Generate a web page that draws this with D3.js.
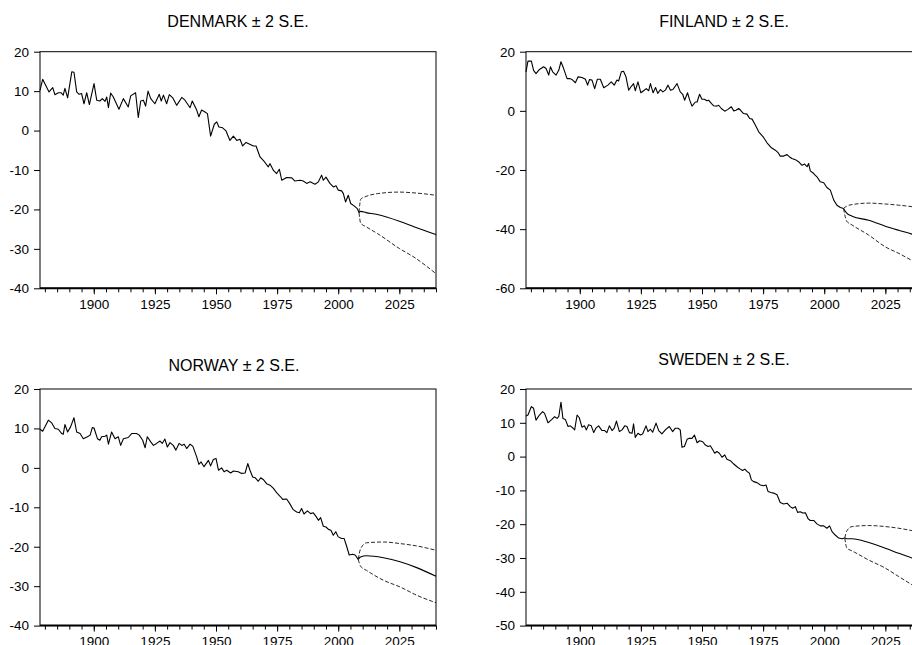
<!DOCTYPE html>
<html>
<head>
<meta charset="utf-8">
<script src="https://cdn.jsdelivr.net/npm/d3@7"></script>
<style>
body { margin: 0; background: #fff; }
svg { display: block; font-family: "Liberation Sans", Arial, sans-serif; }
.title { font-size: 16px; fill: #000; }
.axis text { font-size: 13.5px; fill: #000; }
.axis line { stroke: #000; }
</style>
</head>
<body>
<div id="chart"></div>
<script>
// history: [year, value], forecast: [year, mean, lower, upper]
var denmark = [
[1878,10.2],[1879.1,13.0],[1880,11.9],[1881.7,9.8],[1883.2,10.9],[1884.1,9.1],[1885.5,9.6],[1886.6,9.6],[1887.5,9.0],[1888.2,10.7],[1889.3,8.3],[1891,14.9],[1891.9,14.8],[1893,9.8],[1894,9.2],[1895,9.4],[1896,6.8],[1897.1,9.6],[1898.2,6.6],[1900.1,11.9],[1901.2,7.7],[1902.5,7.5],[1903.5,8.1],[1904.6,7.4],[1905.3,8.5],[1906,5.8],[1906.9,9.5],[1908,8.5],[1910.3,5.4],[1912.1,8.1],[1914.1,6.0],[1915.1,8.8],[1917.1,9.6],[1918.2,3.3],[1919.2,7.5],[1920.3,7.7],[1921.2,6.2],[1922.2,10.0],[1923.3,8.1],[1925,6.8],[1926.8,9.2],[1927.6,7.5],[1928.5,9.0],[1929.8,6.8],[1930.9,9.1],[1932.3,8.3],[1933.9,6.4],[1936,8.4],[1937.3,7.7],[1939.4,5.8],[1940.3,7.5],[1942.1,5.2],[1943,3.5],[1944.1,5.2],[1945.5,4.7],[1946.5,4.3],[1947.8,-1.4],[1949.3,1.6],[1950.3,2.2],[1951.2,0.9],[1952.7,0.7],[1954.1,-0.1],[1955.7,-2.5],[1957.1,-1.4],[1958.5,-2.5],[1959.8,-2.2],[1960.9,-3.9],[1962.3,-3.0],[1965.3,-3.9],[1966.4,-3.9],[1968,-6.7],[1969.8,-7.9],[1971.4,-9.2],[1972.1,-8.4],[1973.5,-10.1],[1974.8,-10.9],[1975.9,-9.8],[1976.9,-12.6],[1978.9,-11.9],[1981,-12.0],[1982.3,-12.8],[1984.4,-12.6],[1985.7,-12.8],[1987.1,-13.4],[1988.5,-13.0],[1990.5,-13.6],[1991.9,-13.0],[1993.2,-11.3],[1993.9,-12.6],[1995,-11.8],[1996.6,-13.4],[1998,-14.3],[1999.1,-14.0],[2000,-15.1],[2001.4,-15.3],[2002.1,-16.0],[2003,-18.1],[2004.1,-16.4],[2005.1,-18.5],[2006.5,-19.1],[2007.8,-19.8],[2008.5,-20.8]
];
var denmarkFc = [
[2008.5,-20.8,-20.8,-20.8],[2009.2,-20.5,-23.5,-17.4],[2011.4,-20.8,-24.4,-16.7],[2016,-21.3,-26.1,-16.0],[2025,-23.0,-29.9,-15.6],[2031,-24.4,-32.1,-15.8],[2040,-26.4,-36.3,-16.4]
];

var finland = [
[1878,13.2],[1878.8,16.8],[1880.2,16.8],[1881.1,13.7],[1882.1,12.6],[1883.5,14.0],[1885.2,14.9],[1886.2,14.3],[1887.3,12.1],[1888,14.9],[1888.9,13.2],[1890.3,12.1],[1891.4,13.7],[1892.3,16.6],[1893.4,14.3],[1894.8,10.9],[1896.1,10.9],[1897.1,10.4],[1898.2,9.5],[1899.3,11.5],[1900.9,11.3],[1902.3,10.7],[1903.2,8.7],[1904,10.6],[1905,10.4],[1906.1,7.5],[1907.2,10.7],[1908.4,10.7],[1909.8,7.8],[1911.5,8.7],[1912.9,9.8],[1914.1,8.7],[1915.2,10.4],[1915.9,10.1],[1917,13.2],[1917.9,13.4],[1918.9,11.5],[1920,7.0],[1921.1,8.3],[1922,9.2],[1922.7,6.8],[1923.8,9.8],[1925,6.1],[1926.1,6.8],[1927.2,7.5],[1928.2,6.8],[1928.9,9.2],[1930,6.1],[1931,7.9],[1931.9,5.9],[1933,7.2],[1934,6.4],[1935,7.0],[1936.1,8.7],[1937.1,7.0],[1938.1,7.2],[1939.8,9.2],[1941.1,6.4],[1942.1,5.6],[1942.9,3.6],[1944.1,6.1],[1944.9,3.8],[1945.9,1.6],[1947.3,3.0],[1948,3.0],[1949,5.6],[1950,3.9],[1951,3.9],[1952,3.4],[1952.7,3.6],[1953.8,2.5],[1954.8,1.7],[1956.1,1.6],[1956.8,1.9],[1957.9,0.8],[1959.3,-0.1],[1960.6,0.5],[1962,1.4],[1963,0.0],[1963.9,0.2],[1965,0.8],[1965.8,0.2],[1967,-0.9],[1968.4,-1.1],[1969.5,-2.6],[1970.5,-2.8],[1971.8,-4.8],[1973.2,-7.1],[1975.2,-9.0],[1976.6,-10.8],[1978.4,-12.5],[1980,-13.3],[1981.1,-14.1],[1982,-15.3],[1983.4,-15.3],[1984.8,-14.8],[1985.7,-15.5],[1986.8,-16.1],[1988.2,-16.5],[1989.5,-17.2],[1990.9,-18.4],[1992,-18.0],[1993,-18.9],[1993.6,-17.8],[1994.3,-20.3],[1995.7,-21.2],[1997,-22.3],[1998.4,-24.0],[1999.8,-24.3],[2001.1,-25.9],[2002.5,-26.8],[2003.9,-30.2],[2005.2,-31.9],[2006.6,-32.7],[2007.9,-33.0]
];
var finlandFc = [
[2007.9,-33.0,-33.0,-33.0],[2009.2,-34.6,-37.3,-32.2],[2011.4,-35.6,-38.6,-31.7],[2018.2,-37.0,-42.0,-31.2],[2025,-39.0,-46.0,-31.5],[2030.5,-40.4,-48.2,-31.9],[2035.9,-41.7,-50.6,-32.4],[2040,-42.9,-52.4,-33.0]
];

var norway = [
[1878,9.8],[1879.1,9.3],[1881.4,12.1],[1882.8,11.4],[1884.1,10.0],[1885.5,9.8],[1886.9,8.7],[1887.5,8.5],[1888.2,11.0],[1889.3,9.1],[1890.5,10.4],[1891.9,12.7],[1893,9.1],[1894.4,8.7],[1895.7,7.4],[1897.4,7.9],[1898.5,8.3],[1899.4,10.2],[1900.1,10.1],[1901.5,7.4],[1902.5,7.0],[1903.2,7.9],[1904.6,8.0],[1905.3,8.3],[1906,6.0],[1907.3,9.1],[1908.7,7.4],[1910,7.9],[1911,5.7],[1912.1,7.4],[1914.1,7.7],[1915.5,8.7],[1917.5,8.7],[1918.6,8.3],[1920,7.0],[1921,5.1],[1921.9,7.9],[1923.3,6.6],[1924.4,5.7],[1925.7,6.2],[1927.1,6.8],[1928,6.2],[1929.1,7.3],[1930.1,5.3],[1931.2,6.4],[1932.5,5.7],[1933.6,4.5],[1934.9,6.2],[1936,5.7],[1937,6.0],[1938,4.9],[1939.4,6.0],[1940.5,5.5],[1942.1,2.8],[1943,0.9],[1943.9,1.5],[1945.1,0.3],[1946.9,1.9],[1947.8,0.5],[1948.9,2.1],[1950,2.4],[1951,-0.6],[1952.3,0.0],[1953.3,-1.0],[1954.4,-0.6],[1956,-1.3],[1957.1,-0.8],[1959.1,-1.0],[1960.5,-1.4],[1961.9,-1.3],[1963,1.1],[1963.9,-0.6],[1965,-2.3],[1966,-2.5],[1967.3,-3.4],[1968.3,-2.5],[1969.4,-3.0],[1970.7,-4.0],[1972.1,-4.4],[1973.5,-5.2],[1974.8,-6.3],[1976.2,-7.2],[1977.3,-8.0],[1978.9,-7.9],[1980.3,-9.2],[1981.6,-10.6],[1983,-11.2],[1984.1,-11.4],[1985,-10.3],[1986,-11.7],[1987.4,-10.9],[1988.7,-11.6],[1989.8,-11.4],[1990.9,-12.3],[1991.9,-13.3],[1992.8,-12.6],[1993.9,-14.8],[1995,-15.0],[1996,-15.6],[1997,-15.8],[1998,-17.1],[1999,-16.2],[2000,-17.5],[2001.4,-17.9],[2002.4,-17.9],[2003.5,-20.0],[2004.5,-22.1],[2005.9,-21.9],[2006.9,-22.1],[2008.2,-23.2]
];
var norwayFc = [
[2008.2,-23.2,-23.2,-23.2],[2009.1,-22.6,-24.9,-20.6],[2011.6,-22.3,-26.0,-19.0],[2018.5,-22.8,-28.5,-18.8],[2025.3,-23.8,-30.2,-19.2],[2032.1,-25.3,-32.3,-19.8],[2040,-27.5,-34.2,-20.9]
];

var sweden = [
[1878,12.0],[1878.8,12.3],[1880.2,14.8],[1881.1,14.3],[1882.1,10.8],[1883.5,12.3],[1884.8,13.3],[1885.6,12.8],[1887,10.0],[1888.6,11.0],[1889.7,11.8],[1890.7,11.3],[1891.4,11.8],[1892.3,16.1],[1893.1,11.3],[1894.1,11.0],[1895.2,8.9],[1896.1,9.1],[1896.8,8.7],[1897.9,7.9],[1898.9,12.3],[1899.8,11.5],[1900.9,8.7],[1901.9,9.1],[1902.7,7.9],[1903.6,9.4],[1904.7,9.1],[1905.7,7.1],[1906.6,8.4],[1907.7,9.1],[1909.1,7.7],[1910.2,7.7],[1911.1,7.1],[1912.1,9.1],[1913.2,7.7],[1914.1,8.4],[1915,10.5],[1916.2,7.4],[1917.3,7.9],[1918.4,9.1],[1919.3,8.9],[1920.3,7.1],[1921.4,6.9],[1922,9.7],[1922.7,5.7],[1923.8,6.9],[1924.8,6.4],[1925.7,6.7],[1927.1,9.1],[1927.9,7.4],[1928.9,8.1],[1929.8,7.2],[1931.2,9.9],[1932.3,7.7],[1933.6,6.7],[1935,7.9],[1936.6,8.9],[1938,7.4],[1939.1,8.4],[1940.2,8.4],[1941.1,7.9],[1941.8,2.8],[1942.8,3.0],[1943.9,5.1],[1944.8,5.4],[1945.9,5.4],[1946.9,6.4],[1948,4.1],[1949,4.7],[1950.3,4.4],[1951.4,3.4],[1952.5,3.0],[1953.4,3.2],[1954.4,2.0],[1955.2,1.0],[1956.1,1.5],[1957.1,1.0],[1958.2,-0.2],[1959.3,0.5],[1960.2,-0.8],[1961.6,-1.2],[1963,-2.2],[1964.3,-3.0],[1965.7,-3.7],[1966.6,-4.1],[1967.5,-3.7],[1968.4,-4.4],[1969.4,-4.9],[1970.2,-6.9],[1971.1,-7.4],[1972.5,-7.7],[1973.9,-8.4],[1975.2,-8.6],[1976.2,-8.4],[1977,-10.3],[1978.2,-10.6],[1979.3,-10.8],[1980.7,-11.3],[1982,-13.6],[1983.4,-14.0],[1984.8,-13.8],[1986.1,-14.8],[1987.1,-15.3],[1988.2,-14.8],[1989.1,-16.5],[1990.2,-16.3],[1991.2,-16.7],[1992.3,-16.6],[1993.4,-18.4],[1994.3,-18.9],[1995.7,-18.9],[1997,-19.9],[1998.4,-20.5],[1999.8,-20.5],[2001.1,-21.2],[2002.2,-20.5],[2003.2,-22.2],[2004.5,-23.2],[2005.9,-24.1],[2007.3,-24.3],[2008.4,-24.1]
];
var swedenFc = [
[2008.4,-24.1,-24.1,-24.1],[2009.3,-24.3,-27.1,-21.9],[2011.4,-24.3,-27.9,-20.7],[2018.2,-25.4,-30.6,-20.4],[2025,-27.1,-33.0,-20.7],[2030.5,-28.6,-35.5,-21.2],[2035.9,-30.0,-37.9,-21.9],[2040,-31.2,-39.7,-22.5]
];

var titles = ["DENMARK \u00b1 2 S.E.", "FINLAND \u00b1 2 S.E.", "NORWAY \u00b1 2 S.E.", "SWEDEN \u00b1 2 S.E."];
var yearDomain = [1878, 2040];
var majorYears = [1900, 1925, 1950, 1975, 2000, 2025];
var minorYears = d3.range(1880, 2041, 5);
var denmarkTicks = [-40, -30, -20, -10, 0, 10, 20];
var finlandTicks = [-60, -40, -20, 0, 20];
var norwayTicks = [-40, -30, -20, -10, 0, 10, 20];
var swedenTicks = [-50, -40, -30, -20, -10, 0, 10, 20];

var svg = d3.select("#chart").append("svg")
    .attr("width", 912)
    .attr("height", 645);

function forecastChart(opts) {

var chartWidth = 396;
var chartHeight = 236.6;

var g = svg.append("g")
    .attr("transform", `translate(${opts.left}, ${opts.top})`);

var xScale = d3.scaleLinear()
    .domain(yearDomain)
    .range([0, chartWidth]);

var yScale = d3.scaleLinear()
    .domain(d3.extent(opts.ticks))
    .range([chartHeight, 0]);

svg.append("text")
    .attr("class", "title")
    .attr("x", opts.titleX)
    .attr("y", opts.titleY)
    .attr("text-anchor", "middle")
    .text(opts.title);

// frame
g.append("rect")
    .attr("width", chartWidth)
    .attr("height", chartHeight)
    .attr("fill", "none")
    .attr("stroke", "#000")
    .attr("stroke-width", 1);

// plain hyphen for negatives, like the original
var plain = d => String(d);

var yAxis = d3.axisLeft(yScale)
    .tickValues(opts.ticks)
    .tickFormat(plain)
    .tickSize(6)
    .tickPadding(5);

g.append("g")
    .attr("class", "y axis")
    .call(yAxis)
    .call(a => a.select(".domain").remove());

var minorAxis = d3.axisBottom(xScale)
    .tickValues(minorYears)
    .tickFormat("")
    .tickSize(4);

g.append("g")
    .attr("class", "x axis")
    .attr("transform", `translate(0,${chartHeight})`)
    .call(minorAxis)
    .call(a => a.select(".domain").remove());

var xAxis = d3.axisBottom(xScale)
    .tickValues(majorYears)
    .tickFormat(plain)
    .tickSize(6)
    .tickPadding(5);

g.append("g")
    .attr("class", "x axis")
    .attr("transform", `translate(0,${chartHeight})`)
    .call(xAxis)
    .call(a => a.select(".domain").remove());

// heavier bottom axis line
g.append("line")
    .attr("x1", 0)
    .attr("x2", chartWidth)
    .attr("y1", chartHeight)
    .attr("y2", chartHeight)
    .attr("stroke", "#000")
    .attr("stroke-width", 2);

var line = d3.line()
    .x(d => xScale(d[0]))
    .y(d => yScale(d[1]));

g.append("path")
    .datum(opts.history)
    .attr("d", line)
    .attr("fill", "none")
    .attr("stroke", "#000")
    .attr("stroke-width", 1.1)
    .attr("stroke-linejoin", "round");

var smooth = function(idx) {
  return d3.line()
    .curve(d3.curveMonotoneX)
    .x(d => xScale(d[0]))
    .y(d => yScale(d[idx]));
};

g.append("path")
    .datum(opts.forecast)
    .attr("d", smooth(1))
    .attr("fill", "none")
    .attr("stroke", "#000")
    .attr("stroke-width", 1.1);

[2, 3].forEach(function(idx) {
  g.append("path")
      .datum(opts.forecast)
      .attr("d", smooth(idx))
      .attr("fill", "none")
      .attr("stroke", "#111")
      .attr("stroke-width", 0.9)
      .attr("stroke-dasharray", "4,2");
});

}

forecastChart({title: titles[0], left: 40, top: 51.7, titleX: 238, titleY: 26.5, ticks: denmarkTicks, history: denmark, forecast: denmarkFc});
forecastChart({title: titles[1], left: 526, top: 51.7, titleX: 724, titleY: 26.5, ticks: finlandTicks, history: finland, forecast: finlandFc});
forecastChart({title: titles[2], left: 40, top: 389, titleX: 234, titleY: 370.5, ticks: norwayTicks, history: norway, forecast: norwayFc});
forecastChart({title: titles[3], left: 526, top: 389, titleX: 724, titleY: 365, ticks: swedenTicks, history: sweden, forecast: swedenFc});
</script>
</body>
</html>
